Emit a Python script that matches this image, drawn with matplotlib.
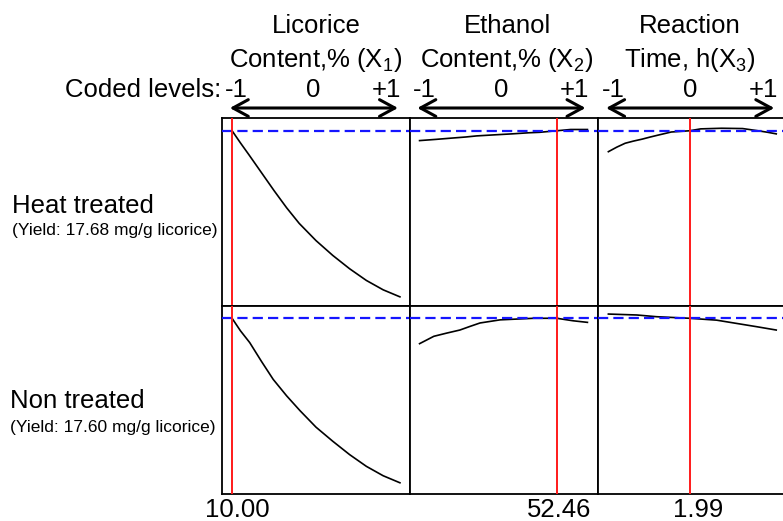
import matplotlib
matplotlib.use("Agg")
import matplotlib.pyplot as plt
import matplotlib.transforms as mtransforms

plt.rcParams['font.family'] = ['Liberation Sans', 'DejaVu Sans']
plt.rcParams['mathtext.fontset'] = 'custom'
plt.rcParams['mathtext.rm'] = 'Liberation Sans'
plt.rcParams['mathtext.it'] = 'Liberation Sans:italic'

# ---------------- data ----------------
factor_titles = ["Licorice\nContent,% (X$_1$)", "Ethanol\nContent,% (X$_2$)", "Reaction\nTime, h(X$_3$)"]
row_names = ["Heat treated", "Non treated"]
row_yields = [17.68, 17.60]
row_yield_labels = ["(Yield: 17.68 mg/g licorice)", "(Yield: 17.60 mg/g licorice)"]
coded_labels = ["-1", "0", "+1"]
optimum_coded = [-1.0, 0.635, -0.03]
optimum_labels = ["10.00", "52.46", "1.99"]

# heat treated (row 0)
ht_x1 = [-1.0, -0.9, -0.8, -0.65, -0.5, -0.35, -0.2, 0.0, 0.2, 0.4, 0.6, 0.8, 1.0]
ht_y1 = [17.68, 16.90, 16.15, 15.00, 13.85, 12.75, 11.75, 10.65, 9.70, 8.85, 8.10, 7.50, 7.05]
ht_x2 = [-1.0, -0.8, -0.64, -0.45, -0.32, -0.1, 0.1, 0.3, 0.43, 0.635, 0.8, 1.0]
ht_y2 = [17.05, 17.13, 17.20, 17.28, 17.35, 17.42, 17.48, 17.55, 17.58, 17.68, 17.76, 17.76]
ht_x3 = [-1.0, -0.9, -0.8, -0.7, -0.6, -0.5, -0.4, -0.25, -0.03, 0.1, 0.35, 0.6, 0.77, 0.9, 1.0]
ht_y3 = [16.34, 16.63, 16.88, 17.02, 17.14, 17.28, 17.41, 17.60, 17.68, 17.80, 17.84, 17.82, 17.69, 17.58, 17.48]

# non treated (row 1)
nt_x1 = [-1.0, -0.9, -0.79, -0.65, -0.51, -0.35, -0.19, 0.0, 0.2, 0.4, 0.6, 0.8, 1.0]
nt_y1 = [17.60, 16.80, 16.05, 14.85, 13.70, 12.65, 11.70, 10.65, 9.75, 8.90, 8.15, 7.55, 7.10]
nt_x2 = [-1.0, -0.83, -0.68, -0.52, -0.4, -0.28, -0.04, 0.36, 0.635, 0.83, 1.0]
nt_y2 = [15.98, 16.45, 16.65, 16.85, 17.08, 17.30, 17.50, 17.60, 17.60, 17.44, 17.34]
nt_x3 = [-1.0, -0.66, -0.425, -0.03, 0.29, 0.53, 0.77, 1.0]
nt_y3 = [17.87, 17.81, 17.70, 17.60, 17.48, 17.27, 17.06, 16.85]

curves = [[(ht_x1, ht_y1), (ht_x2, ht_y2), (ht_x3, ht_y3)],
          [(nt_x1, nt_y1), (nt_x2, nt_y2), (nt_x3, nt_y3)]]

# ---------------- figure ----------------
W, H = 783, 521
fig = plt.figure(figsize=(W / 100, H / 100), dpi=100)


def fx(px):
    return px / W


def fy(py):
    return 1 - py / H


col_left = [222, 409.5, 598.3]
col_w = 188
row_top = [118, 305.5]
row_h = [187.5, 188]
xlim = (-1.12, 1.12)
BIG = 18.5

axes = []
for r in range(2):
    row_axes = []
    for c in range(3):
        ax = fig.add_axes([fx(col_left[c]), fy(row_top[r] + row_h[r]),
                           col_w / W, row_h[r] / H])
        ax.set_xlim(*xlim)
        span = 12.0
        frac = 0.932
        ymin = row_yields[r] - frac * span
        ax.set_ylim(ymin, ymin + span)
        ax.set_xticks([])
        ax.set_yticks([])
        for s in ax.spines.values():
            s.set_linewidth(1.3)
            s.set_color('black')
        xs, ys = curves[r][c]
        ax.plot(xs, ys, color='black', lw=1.2, zorder=3)
        ax.axhline(row_yields[r], color='#1515ff', lw=1.6, dashes=(4.6, 2.3), zorder=4)
        ax.axvline(optimum_coded[c], color='#ff1a1a', lw=1.4, zorder=5)
        row_axes.append(ax)
    axes.append(row_axes)

# column headers
header_cx = [316, 507, 690]
for c in range(3):
    l1, l2 = factor_titles[c].split("\n")
    fig.text(fx(header_cx[c]), fy(33), l1, ha='center', va='baseline', fontsize=BIG)
    fig.text(fx(header_cx[c]), fy(67), l2, ha='center', va='baseline', fontsize=BIG)

# coded levels text
fig.text(fx(221), fy(97), "Coded levels:", ha='right', va='baseline', fontsize=BIG)
for c in range(3):
    ax = axes[0][c]
    tr = mtransforms.blended_transform_factory(ax.transData, fig.transFigure)
    fig.text(-1.08, fy(97), coded_labels[0], transform=tr, ha='left', va='baseline', fontsize=BIG)
    fig.text(-0.03, fy(97), coded_labels[1], transform=tr, ha='center', va='baseline', fontsize=BIG)
    fig.text(1.02, fy(97), coded_labels[2], transform=tr, ha='right', va='baseline', fontsize=BIG)
    fig.add_artist(matplotlib.patches.FancyArrowPatch(
        (-1.06, fy(108)), (1.01, fy(108)), transform=tr,
        arrowstyle='<->,head_length=0.55,head_width=0.3', mutation_scale=20,
        lw=2.2, color='black'))

# row labels
row_label_pos = [(12, 213, 235), (10, 408, 432)]
for r in range(2):
    x0, yb1, yb2 = row_label_pos[r]
    fig.text(fx(x0), fy(yb1), row_names[r], ha='left', va='baseline', fontsize=BIG)
    fig.text(fx(x0), fy(yb2), row_yield_labels[r], ha='left', va='baseline', fontsize=12.5)

# optimum value labels
label_offsets_px = [5, 2, 8]
for c in range(3):
    ax = axes[1][c]
    tr = mtransforms.blended_transform_factory(ax.transData, fig.transFigure)
    tr = tr + mtransforms.ScaledTranslation(label_offsets_px[c] / 100, 0, fig.dpi_scale_trans)
    fig.text(optimum_coded[c], fy(517), optimum_labels[c], transform=tr,
             ha='center', va='baseline', fontsize=BIG)

fig.savefig("out.png", dpi=100)
